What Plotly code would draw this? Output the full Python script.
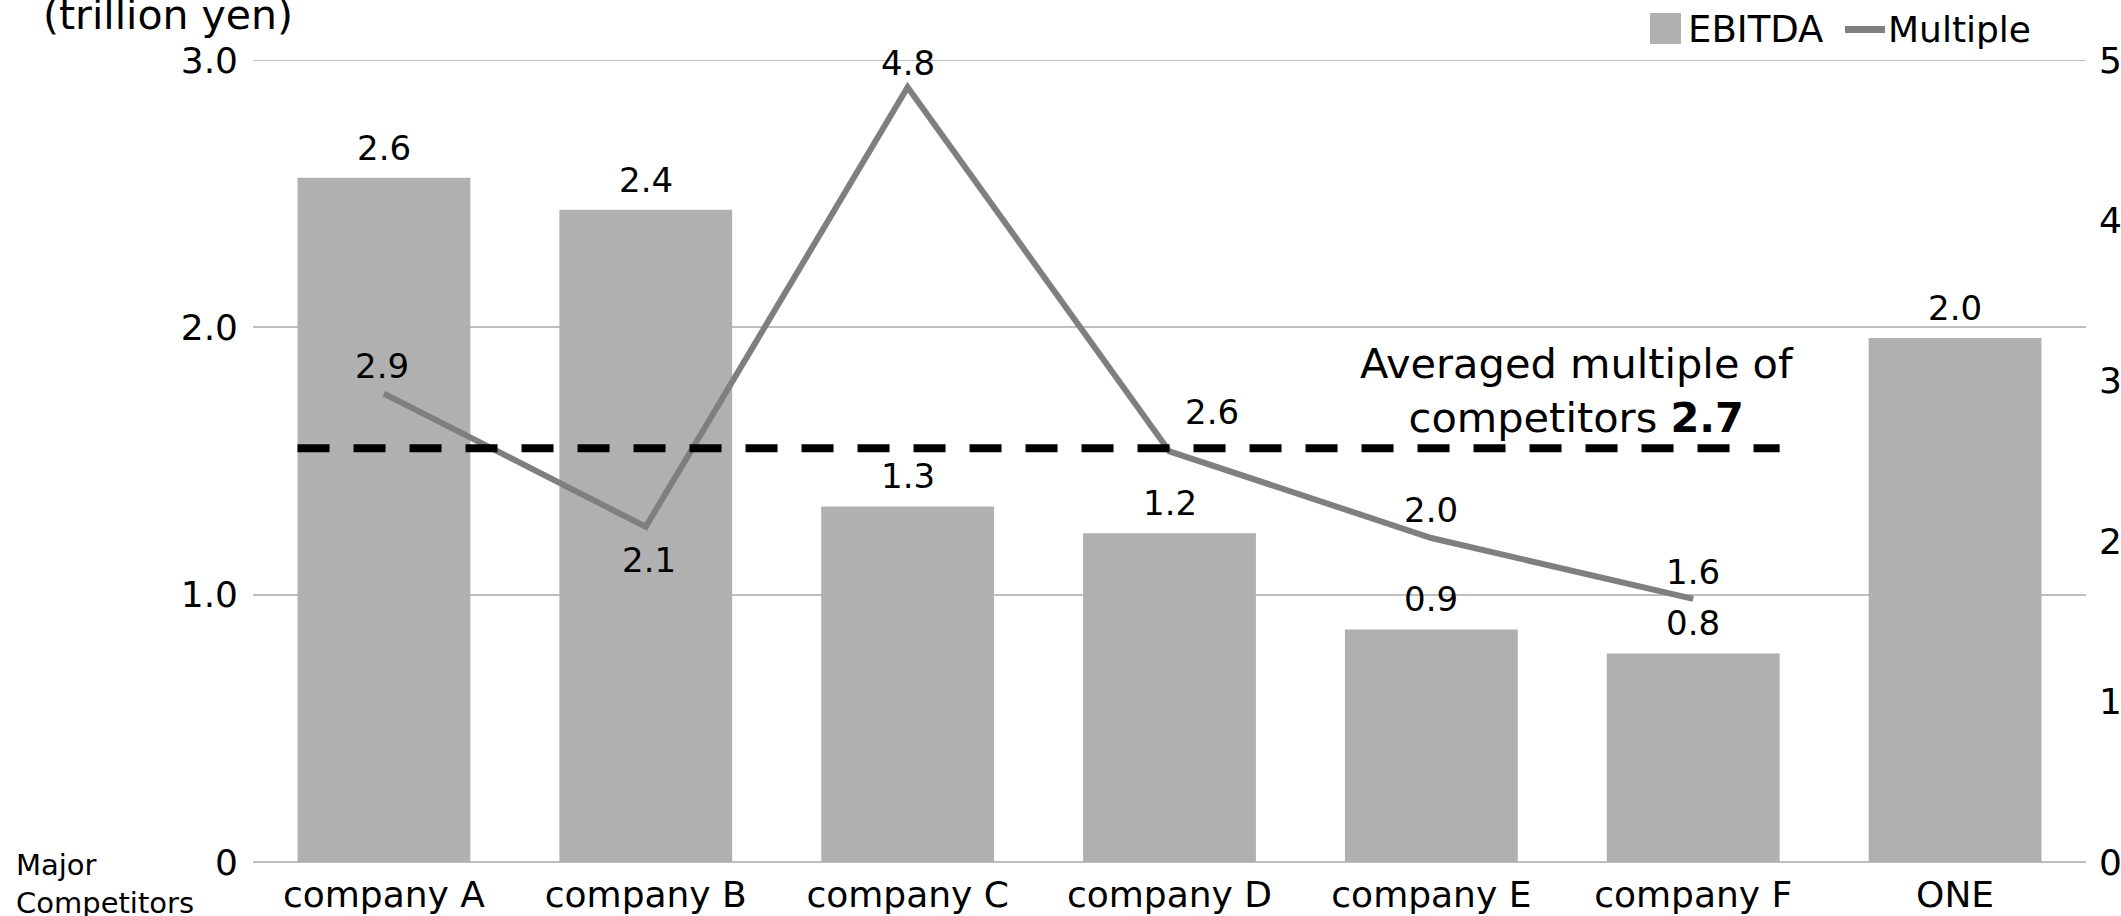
import plotly.graph_objects as go

categories = ["company A", "company B", "company C", "company D", "company E", "company F", "ONE"]
ebitda = [2.56, 2.44, 1.33, 1.23, 0.87, 0.78, 1.96]
multiple = [2.92, 2.09, 4.83, 2.56, 2.02, 1.64, None]
avg_multiple_label = 2.7
avg_line_level = 2.58  # position of dashed line as drawn (right axis units)
left_tickvals = [0, 1, 2, 3]
left_ticktext = ["0", "1.0", "2.0", "3.0"]
right_tickvals = [0, 1, 2, 3, 4, 5]

# label offsets (pixels) for multiple labels: (xshift, yshift)
mult_label_shift = [(-2, 28), (3, -33), (0, 24), (42, 39), (0, 28), (0, 27), (0, 0)]

FONT = "DejaVu Sans, Verdana, sans-serif"
GRID = "#bebebe"
BAR = "#b0b0b0"
LINE = "#7f7f7f"

# plot-area geometry in pixels (for paper-coordinate helpers)
W, H = 2121, 916
ML, MR, MT, MB = 253, 35, 60, 54
PW, PH = W - ML - MR, H - MT - MB


def px(xp):
    return (xp - ML) / PW


def py(yp):
    return (H - MB - yp) / PH


fig = go.Figure()
fig.add_trace(go.Bar(
    x=categories, y=ebitda, name="EBITDA",
    marker=dict(color=BAR, line=dict(width=0)),
    width=0.66, showlegend=False,
))
fig.add_trace(go.Scatter(
    x=categories, y=multiple, name="Multiple", yaxis="y2",
    mode="lines", line=dict(color=LINE, width=6), showlegend=False,
))

# bar value labels
for c, v in zip(categories, ebitda):
    fig.add_annotation(xref="x", yref="y", x=c, y=v, text=f"{v:.1f}",
                       yanchor="middle", yshift=30, showarrow=False,
                       font=dict(size=34, color="black", family=FONT))

# multiple value labels
for c, v, (dx, dy) in zip(categories, multiple, mult_label_shift):
    if v is None:
        continue
    fig.add_annotation(xref="x", yref="y2", x=c, y=v, text=f"{v:.1f}",
                       yanchor="middle", xshift=dx, yshift=dy, showarrow=False,
                       font=dict(size=34, color="black", family=FONT))

# top gridline at 3.0
fig.add_shape(type="line", xref="paper", yref="y", x0=0, x1=1, y0=3, y1=3,
              line=dict(color=GRID, width=2), layer="below")

# average multiple dashed line
fig.add_shape(type="line", xref="x", yref="y2",
              x0=-0.33, x1=5.33, y0=avg_line_level, y1=avg_line_level,
              line=dict(color="black", width=8, dash="32px,24px"))

fig.add_annotation(xref="x", yref="y2", x=4.555, y=avg_line_level,
                   yanchor="bottom", yshift=4, showarrow=False,
                   text=f"Averaged multiple of<br>competitors <b>{avg_multiple_label}</b>",
                   font=dict(size=41.5, color="black", family=FONT), align="center")

fig.add_annotation(xref="paper", yref="paper", x=px(295), y=py(15),
                   xanchor="right", yanchor="middle", showarrow=False,
                   text="(trillion yen)", font=dict(size=41, color="black", family=FONT))

fig.add_annotation(xref="paper", yref="paper", x=px(14), y=py(846),
                   xanchor="left", yanchor="top", showarrow=False, align="left",
                   text="Major<br>Competitors", font=dict(size=29, color="black", family=FONT))

# legend (drawn)
fig.add_shape(type="rect", xref="paper", yref="paper",
              x0=px(1650), x1=px(1681), y0=py(44), y1=py(13),
              fillcolor=BAR, line=dict(width=0))
fig.add_annotation(xref="paper", yref="paper", x=px(1686), y=py(29),
                   xanchor="left", yanchor="middle", showarrow=False,
                   text="EBITDA", font=dict(size=37, color="black", family=FONT))
fig.add_shape(type="line", xref="paper", yref="paper",
              x0=px(1845), x1=px(1885), y0=py(29.5), y1=py(29.5),
              line=dict(color=LINE, width=7))
fig.add_annotation(xref="paper", yref="paper", x=px(1886), y=py(29),
                   xanchor="left", yanchor="middle", showarrow=False,
                   text="Multiple", font=dict(size=36, color="black", family=FONT))

fig.update_layout(
    width=W, height=H, autosize=False,
    margin=dict(l=ML, r=MR, t=MT, b=MB, autoexpand=False),
    paper_bgcolor="white", plot_bgcolor="white",
    font=dict(family=FONT, size=36, color="black"),
    showlegend=False,
    xaxis=dict(range=[-0.5, 6.5], showgrid=False, showline=False, ticks="",
               ticklabelstandoff=8,
               tickfont=dict(size=36, family=FONT, color="black")),
    yaxis=dict(range=[0, 3], tickvals=left_tickvals, ticktext=left_ticktext,
               showgrid=True, gridcolor=GRID, gridwidth=2,
               zeroline=True, zerolinecolor=GRID, zerolinewidth=2,
               showline=False, ticks="", ticklabelstandoff=14,
               tickfont=dict(size=36, family=FONT, color="black")),
    yaxis2=dict(range=[0, 5], overlaying="y", side="right", tickvals=right_tickvals,
                showgrid=False, zeroline=False, showline=False, ticks="",
                ticklabelstandoff=12,
                tickfont=dict(size=36, family=FONT, color="black")),
)

fig.write_html("out.html")
